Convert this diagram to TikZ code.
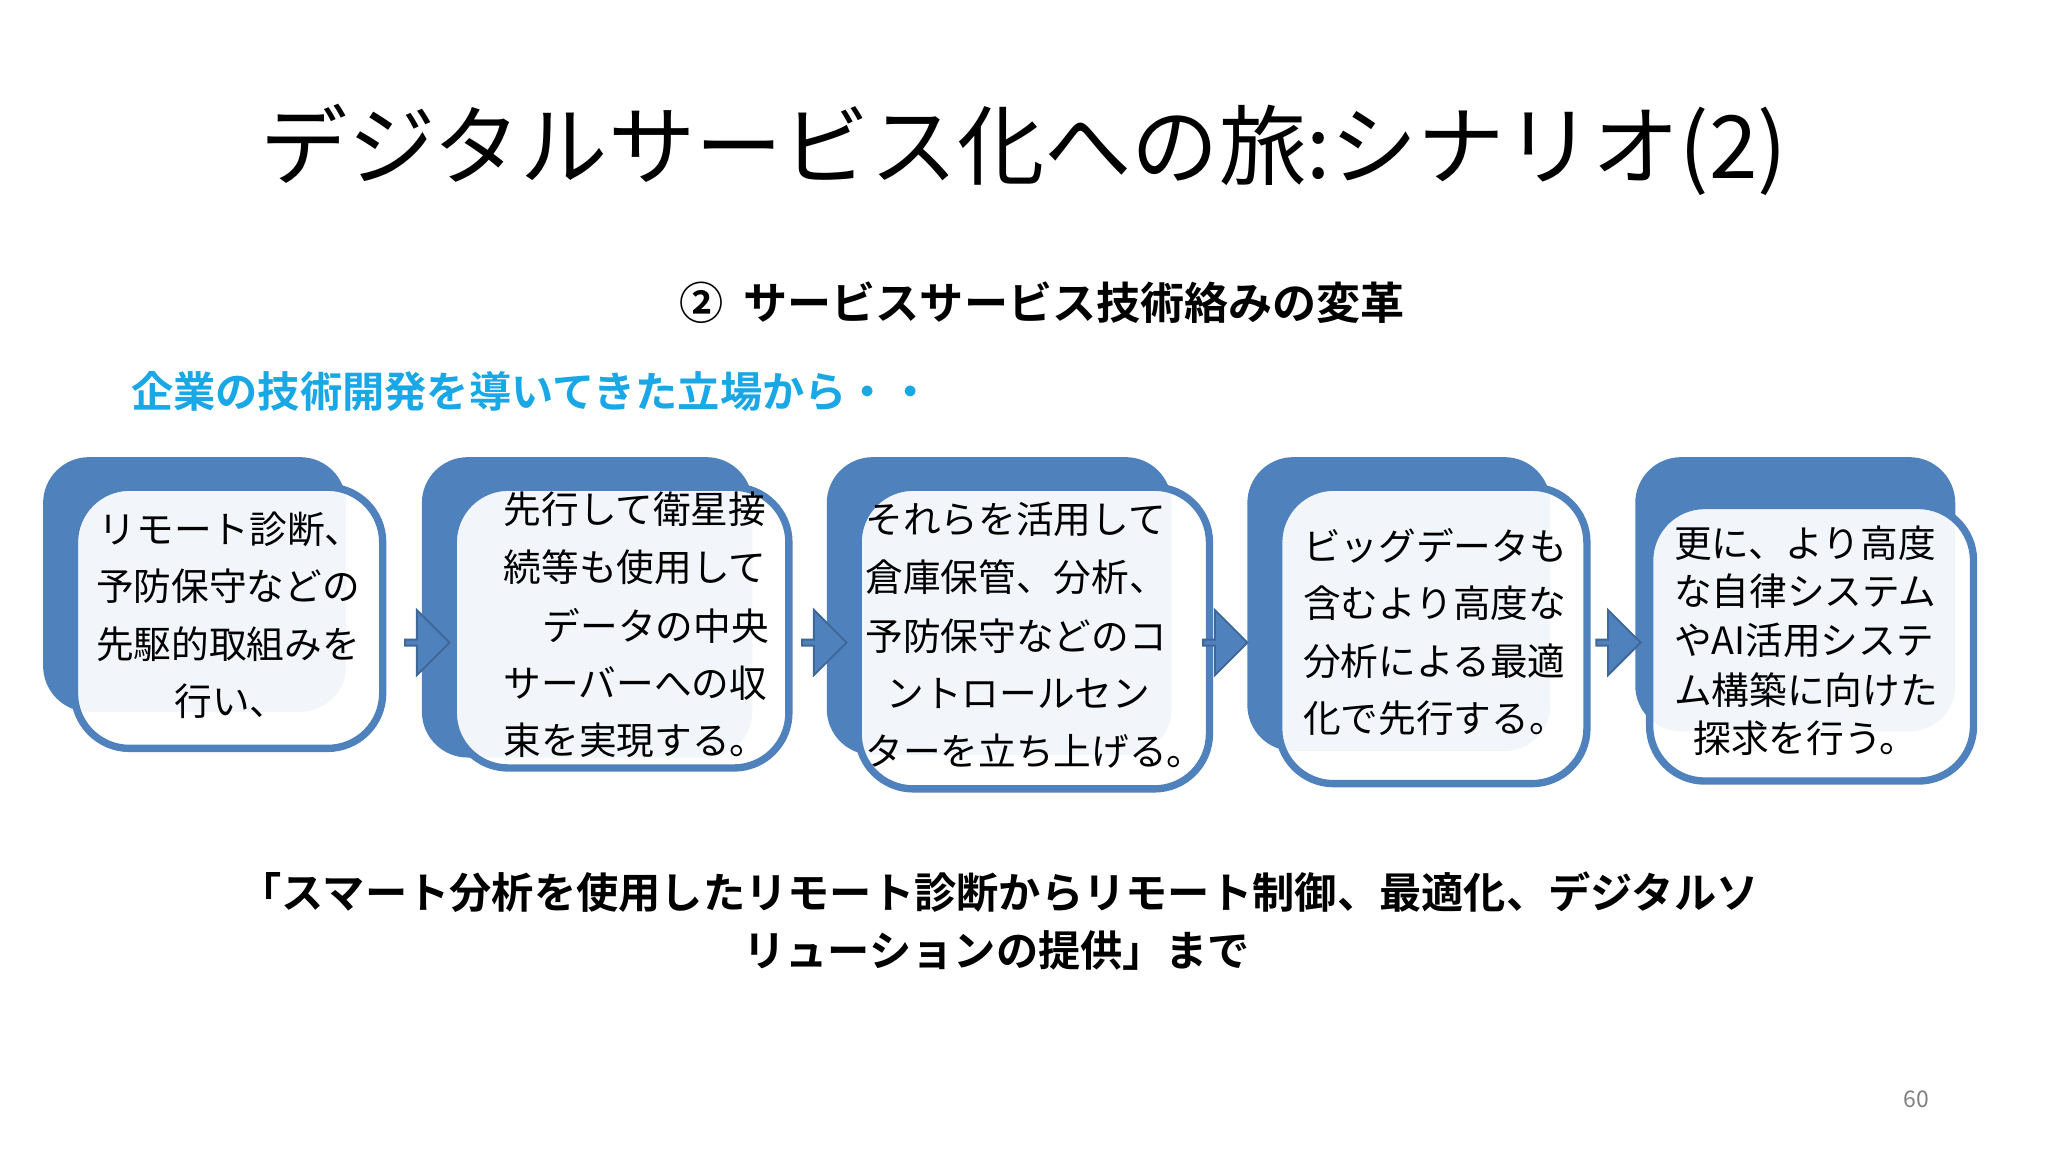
\documentclass[tikz,border=0pt]{standalone}
\usepackage{fontspec}
\setmainfont{Noto Sans CJK JP}[BoldFont={Noto Sans CJK JP Bold}]
\usetikzlibrary{shapes.arrows}
\definecolor{bblue}{HTML}{4F81BD}
\definecolor{cyanT}{HTML}{1AA7E6}
\tikzset{
 back/.style={fill=bblue,rounded corners=10pt,draw=none},
 front/.style={fill=white,fill opacity=0.93,draw=bblue,line width=1.6pt,rounded corners=12pt},
 bt/.style={anchor=west,font=\fontsize{8.2}{9}\selectfont,inner sep=0pt},
 barr/.style={single arrow,fill=bblue,draw=bblue!80!black,line width=0.4pt,minimum height=0.34cm,minimum width=0.5cm,single arrow head extend=0.07cm,inner sep=0pt}
}
\begin{document}
\begin{tikzpicture}[x=0.01cm,y=-0.01cm]
\useasboundingbox (0,0) rectangle (1568,882);
\node (title) at (784,115) {\fontsize{19}{20}\selectfont デジタルサービス化への旅:シナリオ(2)};
\node (sub) at (798,232) {\fontsize{9.6}{10}\selectfont\bfseries ②\ \ サービスサービス技術絡みの変革};
\node[anchor=west,text=cyanT] (lead) at (88,300) {\fontsize{9.2}{10}\selectfont\bfseries 企業の技術開発を導いてきた立場から・・};
% boxes
\fill[back] (33,350) rectangle (265,545);
\draw[front] (57,373) rectangle (293,573);
\fill[back] (323,350) rectangle (576,580);
\draw[front] (347,373) rectangle (604,588);
\fill[back] (633,350) rectangle (897,578);
\draw[front] (657,373) rectangle (926,604);
\fill[back] (955,350) rectangle (1187,575);
\draw[front] (979,373) rectangle (1215,600);
\fill[back] (1252,350) rectangle (1497,560);
\draw[front] (1263,387) rectangle (1511,598);
% arrows
\node[barr] (a1) at (326,492) {};
\node[barr] (a2) at (630,492) {};
\node[barr] (a3) at (937,492) {};
\node[barr] (a4) at (1238,492) {};
% texts
\node[bt] (t11) at (75,405) {リモート診断、};
\node[bt] (t12) at (73,449) {予防保守などの};
\node[bt] (t13) at (73,493) {先駆的取組みを};
\node[bt] (t14) at (133,537) {行い、};
\node[bt] (t21) at (385,390) {先行して衛星接};
\node[bt] (t22) at (385,434) {続等も使用して};
\node[bt] (t23) at (415,479) {データの中央};
\node[bt] (t24) at (385,523) {サーバーへの収};
\node[bt] (t25) at (385,567) {束を実現する。};
\node[bt] (t31) at (662,398) {それらを活用して};
\node[bt] (t32) at (662,442) {倉庫保管、分析、};
\node[bt] (t33) at (662,487) {予防保守などのコ};
\node[bt] (t34) at (678,531) {ントロールセン};
\node[bt] (t35) at (662,575) {ターを立ち上げる。};
\node[bt] (t41) at (997,418) {ビッグデータも};
\node[bt] (t42) at (997,462) {含むより高度な};
\node[bt] (t43) at (997,506) {分析による最適};
\node[bt] (t44) at (997,550) {化で先行する。};
\node[bt] (t51) at (1281,416) {更に、より高度};
\node[bt] (t52) at (1281,453) {な自律システム};
\node[bt] (t53) at (1281,490) {やAI活用システ};
\node[bt] (t54) at (1281,528) {ム構築に向けた};
\node[bt] (t55) at (1296,565) {探求を行う。};
\node (b1) at (765,683) {\fontsize{9.2}{10}\selectfont\bfseries 「スマート分析を使用したリモート診断からリモート制御、最適化、デジタルソ};
\node (b2) at (763,728) {\fontsize{9.2}{10}\selectfont\bfseries リューションの提供」まで};
\node[text=gray] (pg) at (1467,842) {\fontsize{5}{6}\selectfont 60};
\end{tikzpicture}
\end{document}
